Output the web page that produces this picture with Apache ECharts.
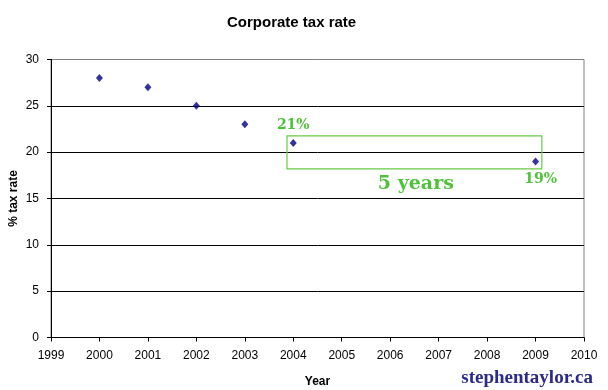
<!DOCTYPE html>
<html><head><meta charset="utf-8">
<script src="https://cdn.jsdelivr.net/npm/echarts@6/dist/echarts.min.js"></script>
<style>html,body{margin:0;padding:0;background:#fff}#c{width:608px;height:390px}</style>
</head><body><div id="c"></div>
<script>
var years = [2000, 2001, 2002, 2003, 2004, 2009];
var rates = [28, 27, 25, 23, 21, 19];
var boxX = [2003.87, 2009.13];
var boxY = [18.2, 21.75];
var annotations = [
  {text: '21%', x: 2004, y: 21},
  {text: '19%', x: 2009, y: 19},
  {text: '5 years', x: 2006.53, y: 16.6}
];
var green = '#4fc23a';
var chart = echarts.init(document.getElementById('c'));
var pts = years.map(function(y, i){ return [y, rates[i]]; });
chart.setOption({
  animation: false,
  backgroundColor: '#fff',
  title: {text: 'Corporate tax rate', left: 222, top: 10,
    textStyle: {fontFamily: 'Liberation Sans, Arial', fontSize: 15, fontWeight: 'bold', color: '#000'}},
  grid: {left: 51, right: 24, top: 59.5, bottom: 52.5, show: true, containLabel: false, outerBoundsMode: 'none',
    borderColor: '#808080', borderWidth: 1, backgroundColor: '#fff'},
  xAxis: {type: 'value', min: 1999, max: 2010, interval: 1,
    name: 'Year', nameLocation: 'middle', nameGap: 38, nameMoveOverlap: false,
    nameTextStyle: {fontFamily: 'Liberation Sans, Arial', fontSize: 12, fontWeight: 'bold', color: '#000'},
    axisLine: {show: true, lineStyle: {color: '#000', width: 1}},
    axisTick: {show: true, length: 4, lineStyle: {color: '#000'}},
    axisLabel: {formatter: function(v){ return String(v); }, fontFamily: 'Liberation Sans, Arial', fontSize: 12, color: '#000', margin: 12},
    splitLine: {show: false}},
  yAxis: {type: 'value', min: 0, max: 30, interval: 5,
    name: '% tax rate', nameLocation: 'middle', nameGap: 31, nameMoveOverlap: false,
    nameTextStyle: {fontFamily: 'Liberation Sans, Arial', fontSize: 12, fontWeight: 'bold', color: '#000'},
    axisLine: {show: true, lineStyle: {color: '#000', width: 1}},
    axisTick: {show: true, length: 4, lineStyle: {color: '#000'}},
    axisLabel: {fontFamily: 'Liberation Sans, Arial', fontSize: 12, color: '#000', margin: 12},
    splitLine: {show: true, lineStyle: {color: ['#000', '#000', '#000', '#000', '#000', '#000', '#808080'], width: 1}}},
  series: [{
    type: 'scatter', data: pts, symbol: 'diamond', symbolSize: [7, 8],
    itemStyle: {color: '#000080'},
    markArea: {silent: true,
      itemStyle: {color: 'rgba(0,0,0,0)', borderColor: '#66cc44', borderWidth: 1.2},
      data: [[{coord: [boxX[0], boxY[1]]}, {coord: [boxX[1], boxY[0]]}]]},
    markPoint: {silent: true, symbol: 'circle', symbolSize: 0,
      data: [
        {coord: [annotations[0].x, annotations[0].y], label: {show: true, formatter: annotations[0].text, offset: [0, -18], fontSize: 14}},
        {coord: [annotations[1].x, annotations[1].y], label: {show: true, formatter: annotations[1].text, offset: [5, 18], fontSize: 14}},
        {coord: [annotations[2].x, annotations[2].y], label: {show: true, formatter: annotations[2].text, offset: [0, 0], fontSize: 19}}
      ],
      label: {fontFamily: 'Georgia, DejaVu Serif, Liberation Serif, serif', fontWeight: 'bold', color: green, position: 'inside'}}
  }],
  graphic: [{type: 'text', right: 15, bottom: 2,
    style: {text: 'stephentaylor.ca', fontFamily: 'Liberation Serif, Times New Roman, serif', fontWeight: 'bold', fontSize: 19, fill: '#2b2b8c'}}]
});
</script></body></html>
